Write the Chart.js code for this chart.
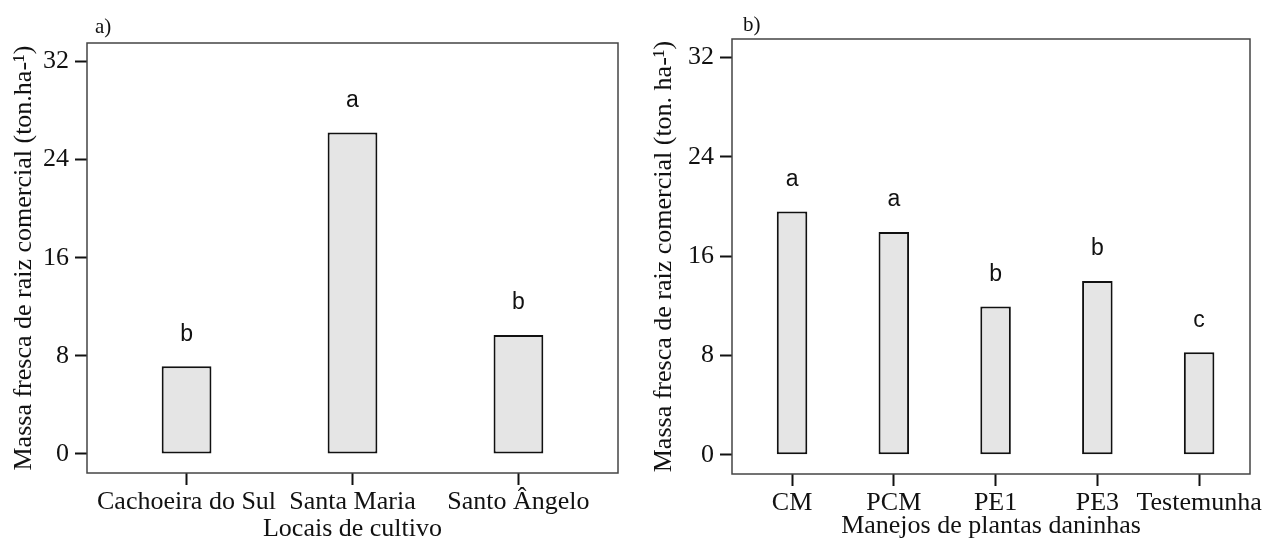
<!DOCTYPE html>
<html>
<head>
<meta charset="utf-8">
<script src="https://cdn.jsdelivr.net/npm/chart.js@4.4.1/dist/chart.umd.min.js"></script>
<style>
  html, body { margin: 0; padding: 0; background: #fff; }
  #wrap { position: relative; width: 1269px; height: 542px; }
  canvas { position: absolute; top: 0; }
  #chartA { left: 0; }
  #chartB { left: 634px; }
</style>
</head>
<body>
<div id="wrap">
  <canvas id="chartA" width="634" height="542"></canvas>
  <canvas id="chartB" width="635" height="542"></canvas>
</div>
<script>
  'use strict';

  // a) Locais de cultivo
  const locais = ['Cachoeira do Sul', 'Santa Maria', 'Santo Ângelo'];
  const massaLocais = [7.15, 26.2, 9.7];
  const letrasLocais = ['b', 'a', 'b'];

  // b) Manejos de plantas daninhas
  const manejos = ['CM', 'PCM', 'PE1', 'PE3', 'Testemunha'];
  const massaManejos = [19.6, 17.95, 11.95, 14.0, 8.25];
  const letrasManejos = ['a', 'a', 'b', 'b', 'c'];

  const yTicks = [0, 8, 16, 24, 32];

  const SERIF = '"Liberation Serif", "Times New Roman", serif';
  const SANS = '"Liberation Sans", Arial, sans-serif';
  const INK = '#111';

  // box around the plot area plus the panel tag, e.g. "a)"
  const framePlugin = {
    id: 'frame',
    afterDraw(chart, args, opts) {
      const { ctx, chartArea: a } = chart;
      ctx.save();
      ctx.strokeStyle = '#444';
      ctx.lineWidth = 1.5;
      ctx.strokeRect(a.left, a.top, a.right - a.left, a.bottom - a.top);
      ctx.fillStyle = INK;
      ctx.font = '21px ' + SERIF;
      ctx.textAlign = 'left';
      ctx.textBaseline = 'middle';
      ctx.fillText(opts.tag, a.left + opts.tagDx, a.top + opts.tagDy);
      ctx.restore();
    }
  };

  // significance letters above each bar
  const lettersPlugin = {
    id: 'letters',
    afterDatasetsDraw(chart, args, opts) {
      const { ctx } = chart;
      const meta = chart.getDatasetMeta(0);
      ctx.save();
      ctx.fillStyle = INK;
      ctx.font = '23px ' + SANS;
      ctx.textAlign = 'center';
      ctx.textBaseline = 'middle';
      meta.data.forEach((bar, i) => {
        ctx.fillText(opts.letters[i], bar.x, bar.y - 32);
      });
      ctx.restore();
    }
  };

  function makeChart(canvasId, cfg) {
    const ctx = document.getElementById(canvasId).getContext('2d');
    return new Chart(ctx, {
      type: 'bar',
      data: {
        datasets: [{
          data: cfg.values.map((v, i) => ({ x: i, y: v })),
          backgroundColor: '#e5e5e5',
          borderColor: INK,
          borderWidth: 2,
          borderSkipped: false,
          categoryPercentage: 1,
          barPercentage: 0.3
        }]
      },
      options: {
        responsive: false,
        animation: false,
        layout: {
          padding: { left: 0, top: cfg.top, right: cfg.right, bottom: 0 }
        },
        plugins: {
          legend: { display: false },
          tooltip: { enabled: false },
          frame: { tag: cfg.tag, tagDx: cfg.tagDx, tagDy: cfg.tagDy },
          letters: { letters: cfg.letters }
        },
        scales: {
          x: {
            type: 'linear',
            offset: false,
            min: cfg.xMin,
            max: cfg.xMax,
            afterBuildTicks: (scale) => {
              scale.ticks = cfg.categories.map((c, i) => ({ value: i }));
            },
            afterFit: (scale) => { scale.height = cfg.xHeight; },
            border: { display: false },
            grid: {
              offset: false,
              drawOnChartArea: false,
              drawTicks: true,
              tickLength: 12,
              tickWidth: 2,
              tickColor: INK
            },
            ticks: {
              autoSkip: false,
              maxRotation: 0,
              padding: 2,
              color: INK,
              font: { family: SERIF, size: 26 },
              callback: (v) => cfg.categories[v]
            },
            title: {
              display: true,
              text: cfg.xTitle,
              color: INK,
              font: { family: SERIF, size: 26, lineHeight: 1 },
              padding: { top: 0, bottom: cfg.xTitlePad }
            }
          },
          y: {
            min: -1.55,
            max: 33.5,
            afterBuildTicks: (scale) => {
              scale.ticks = yTicks.map(v => ({ value: v }));
            },
            afterFit: (scale) => { scale.width = cfg.yWidth; },
            border: { display: false },
            grid: {
              drawOnChartArea: false,
              drawTicks: true,
              tickLength: 12,
              tickWidth: 2,
              tickColor: INK
            },
            ticks: {
              padding: 6,
              color: INK,
              font: { family: SERIF, size: 26 }
            },
            title: {
              display: true,
              text: cfg.yTitle,
              color: INK,
              font: { family: SERIF, size: 26, lineHeight: 1 },
              padding: { top: cfg.yTitlePad, bottom: 0 }
            }
          }
        }
      },
      plugins: [framePlugin, lettersPlugin]
    });
  }

  makeChart('chartA', {
    categories: locais,
    values: massaLocais,
    letters: letrasLocais,
    tag: 'a)',
    tagDx: 8,
    tagDy: -16,
    xTitle: 'Locais de cultivo',
    yTitle: 'Massa fresca de raiz comercial (ton.ha-¹)',
    xMin: -0.6,
    xMax: 2.6,
    top: 43,
    right: 16,
    xHeight: 69,
    yWidth: 87,
    xTitlePad: 0,
    yTitlePad: 11
  });

  makeChart('chartB', {
    categories: manejos,
    values: massaManejos,
    letters: letrasManejos,
    tag: 'b)',
    tagDx: 11,
    tagDy: -14,
    xTitle: 'Manejos de plantas daninhas',
    yTitle: 'Massa fresca de raiz comercial (ton. ha-¹)',
    xMin: -0.59,
    xMax: 4.5,
    top: 39,
    right: 19,
    xHeight: 68,
    yWidth: 98,
    xTitlePad: 3,
    yTitlePad: 17
  });
</script>
</body>
</html>
